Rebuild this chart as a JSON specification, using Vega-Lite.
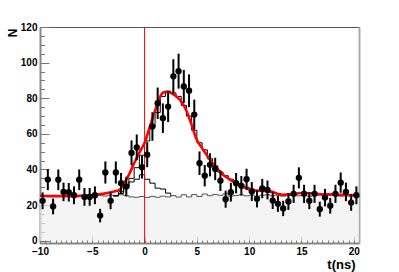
{
  "$schema": "https://vega.github.io/schema/vega-lite/v6.json",
  "width": 319,
  "height": 216,
  "autosize": "none",
  "padding": {"left": 40, "top": 27, "right": 40, "bottom": 29},
  "background": "white",
  "config": {
    "view": {"stroke": "#555", "strokeWidth": 1},
    "font": "Liberation Sans",
    "axis": {"grid": false, "labelFont": "Liberation Sans", "labelFontWeight": "bold", "labelFontSize": 10, "labelColor": "black", "tickColor": "#777", "tickWidth": 1, "domainColor": "#888", "titleFont": "Liberation Sans", "titleColor": "black"}
  },
  "datasets": {
    "fillh": [
      {"x": -10, "n": 25.3}, {"x": -9.5, "n": 25.1}, {"x": -9, "n": 25.4}, {"x": -8.5, "n": 25.2}, {"x": -8, "n": 25.0},
      {"x": -7.5, "n": 25.3}, {"x": -7, "n": 25.1}, {"x": -6.5, "n": 25.4}, {"x": -6, "n": 25.2}, {"x": -5.5, "n": 25.0},
      {"x": -5, "n": 25.3}, {"x": -4.5, "n": 25.5}, {"x": -4, "n": 25.1}, {"x": -3.5, "n": 25.6}, {"x": -3, "n": 25.2},
      {"x": -2.5, "n": 25.8}, {"x": -2, "n": 25.3}, {"x": -1.5, "n": 24.6}, {"x": -1, "n": 24.4}, {"x": -0.5, "n": 24.8},
      {"x": 0, "n": 24.3}, {"x": 0.5, "n": 24.9}, {"x": 1, "n": 24.4}, {"x": 1.5, "n": 25.0}, {"x": 2, "n": 24.6},
      {"x": 2.5, "n": 25.3}, {"x": 3, "n": 24.5}, {"x": 3.5, "n": 25.8}, {"x": 4, "n": 24.6}, {"x": 4.5, "n": 25.9},
      {"x": 5, "n": 24.8}, {"x": 5.5, "n": 26.2}, {"x": 6, "n": 25.3}, {"x": 6.5, "n": 26.0}, {"x": 7, "n": 25.5},
      {"x": 7.5, "n": 26.3}, {"x": 8, "n": 25.0}, {"x": 8.5, "n": 25.4}, {"x": 9, "n": 25.8}, {"x": 9.5, "n": 25.2},
      {"x": 10, "n": 25.6}, {"x": 10.5, "n": 25.0}, {"x": 11, "n": 25.5}, {"x": 11.5, "n": 25.8}, {"x": 12, "n": 25.2},
      {"x": 12.5, "n": 25.5}, {"x": 13, "n": 25.0}, {"x": 13.5, "n": 25.4}, {"x": 14, "n": 25.7}, {"x": 14.5, "n": 25.2},
      {"x": 15, "n": 25.5}, {"x": 15.5, "n": 25.0}, {"x": 16, "n": 25.4}, {"x": 16.5, "n": 25.6}, {"x": 17, "n": 25.1},
      {"x": 17.5, "n": 25.5}, {"x": 18, "n": 25.3}, {"x": 18.5, "n": 25.0}, {"x": 19, "n": 25.4}, {"x": 19.5, "n": 25.2},
      {"x": 20, "n": 25.4}, {"x": 20.5, "n": 25.4}
    ],
    "midh": [
      {"x": -3, "n": 25.2}, {"x": -2.5, "n": 26.5}, {"x": -2, "n": 29.5}, {"x": -1.5, "n": 33}, {"x": -1, "n": 34.5},
      {"x": -0.5, "n": 37}, {"x": 0, "n": 34.5}, {"x": 0.5, "n": 32.3}, {"x": 1, "n": 29.5}, {"x": 1.5, "n": 29},
      {"x": 2, "n": 26.7}, {"x": 2.5, "n": 25.3}
    ],
    "toth": [
      {"x": -3, "n": 25.2}, {"x": -2.5, "n": 27.5}, {"x": -2, "n": 30.5}, {"x": -1.5, "n": 35}, {"x": -1, "n": 41},
      {"x": -0.5, "n": 48}, {"x": 0, "n": 56}, {"x": 0.5, "n": 64}, {"x": 1, "n": 72}, {"x": 1.5, "n": 81},
      {"x": 2, "n": 84}, {"x": 2.5, "n": 83}, {"x": 3, "n": 81}, {"x": 3.5, "n": 76}, {"x": 4, "n": 70},
      {"x": 4.5, "n": 62}, {"x": 5, "n": 55}, {"x": 5.5, "n": 51}, {"x": 6, "n": 46}, {"x": 6.5, "n": 42},
      {"x": 7, "n": 38.5}, {"x": 7.5, "n": 36.5}, {"x": 8, "n": 34.5}, {"x": 8.5, "n": 32.5}, {"x": 9, "n": 31},
      {"x": 9.5, "n": 30}, {"x": 10, "n": 29}, {"x": 10.5, "n": 28.3}, {"x": 11, "n": 28}, {"x": 11.5, "n": 28},
      {"x": 12, "n": 27}, {"x": 12.5, "n": 26.5}, {"x": 13, "n": 25.0}
    ],
    "fit": [
      {"x": -10, "n": 25.2}, {"x": -9, "n": 25.0}, {"x": -8, "n": 25.0}, {"x": -7, "n": 25.0}, {"x": -6, "n": 25.2},
      {"x": -5, "n": 25.5}, {"x": -4, "n": 26.3}, {"x": -3, "n": 27.5}, {"x": -2.4, "n": 28.5}, {"x": -2, "n": 32},
      {"x": -1.5, "n": 37}, {"x": -1, "n": 43.5}, {"x": -0.5, "n": 49.5}, {"x": 0, "n": 55}, {"x": 0.5, "n": 64},
      {"x": 1, "n": 73}, {"x": 1.5, "n": 81}, {"x": 1.8, "n": 83.3}, {"x": 2.2, "n": 83.5}, {"x": 2.8, "n": 82},
      {"x": 3.4, "n": 79}, {"x": 4, "n": 73}, {"x": 4.5, "n": 65}, {"x": 5, "n": 56.5}, {"x": 5.5, "n": 52},
      {"x": 6, "n": 47.5}, {"x": 6.5, "n": 43.5}, {"x": 7, "n": 40}, {"x": 7.5, "n": 37}, {"x": 8, "n": 35},
      {"x": 8.5, "n": 33}, {"x": 9, "n": 31.3}, {"x": 9.5, "n": 30}, {"x": 10, "n": 28.8}, {"x": 10.5, "n": 28.2},
      {"x": 11, "n": 28}, {"x": 12, "n": 27.8}, {"x": 12.5, "n": 26.8}, {"x": 13, "n": 25.8}, {"x": 14, "n": 26},
      {"x": 15, "n": 26.8}, {"x": 16, "n": 26.6}, {"x": 17, "n": 26}, {"x": 18, "n": 26}, {"x": 19, "n": 25.7},
      {"x": 20.5, "n": 25.5}
    ],
    "pts": [
      {"x": -9.75, "n": 22.4, "lo": 17.7, "hi": 27.1},
      {"x": -9.25, "n": 34.3, "lo": 28.4, "hi": 40.2},
      {"x": -8.75, "n": 19.2, "lo": 14.8, "hi": 23.6},
      {"x": -8.25, "n": 34.2, "lo": 28.4, "hi": 40.0},
      {"x": -7.75, "n": 27.4, "lo": 22.2, "hi": 32.6},
      {"x": -7.25, "n": 27.2, "lo": 22.0, "hi": 32.4},
      {"x": -6.75, "n": 25.5, "lo": 20.5, "hi": 30.5},
      {"x": -6.25, "n": 34.2, "lo": 28.4, "hi": 40.0},
      {"x": -5.75, "n": 24.6, "lo": 19.6, "hi": 29.6},
      {"x": -5.25, "n": 24.6, "lo": 19.6, "hi": 29.6},
      {"x": -4.75, "n": 25.5, "lo": 20.5, "hi": 30.5},
      {"x": -4.25, "n": 14.1, "lo": 10.3, "hi": 17.9},
      {"x": -3.75, "n": 38.3, "lo": 32.1, "hi": 44.5},
      {"x": -3.25, "n": 22.4, "lo": 17.7, "hi": 27.1},
      {"x": -2.75, "n": 38.3, "lo": 32.1, "hi": 44.5},
      {"x": -2.25, "n": 32.3, "lo": 26.6, "hi": 38.0},
      {"x": -1.75, "n": 30.4, "lo": 24.9, "hi": 35.9},
      {"x": -1.25, "n": 49.3, "lo": 42.3, "hi": 56.3},
      {"x": -0.75, "n": 52.4, "lo": 45.2, "hi": 59.6},
      {"x": -0.25, "n": 41.3, "lo": 34.9, "hi": 47.7},
      {"x": 0.25, "n": 48.3, "lo": 41.3, "hi": 55.3},
      {"x": 0.75, "n": 64.1, "lo": 56.1, "hi": 72.1},
      {"x": 1.25, "n": 77.2, "lo": 68.4, "hi": 86.0},
      {"x": 1.75, "n": 68.8, "lo": 60.5, "hi": 77.1},
      {"x": 2.25, "n": 75.3, "lo": 66.6, "hi": 84.0},
      {"x": 2.75, "n": 92.3, "lo": 82.7, "hi": 101.9},
      {"x": 3.25, "n": 95.2, "lo": 85.4, "hi": 105.0},
      {"x": 3.75, "n": 86.6, "lo": 77.3, "hi": 95.9},
      {"x": 4.25, "n": 84.2, "lo": 75.0, "hi": 93.4},
      {"x": 4.75, "n": 70.8, "lo": 62.4, "hi": 79.2},
      {"x": 5.25, "n": 43.5, "lo": 36.9, "hi": 50.1},
      {"x": 5.75, "n": 36.5, "lo": 30.5, "hi": 42.5},
      {"x": 6.25, "n": 42.6, "lo": 36.1, "hi": 49.1},
      {"x": 6.75, "n": 40.3, "lo": 34.0, "hi": 46.6},
      {"x": 7.25, "n": 33.7, "lo": 27.9, "hi": 39.5},
      {"x": 7.75, "n": 23.3, "lo": 18.5, "hi": 28.1},
      {"x": 8.25, "n": 27.2, "lo": 22.0, "hi": 32.4},
      {"x": 8.75, "n": 32.3, "lo": 26.6, "hi": 38.0},
      {"x": 9.25, "n": 30.8, "lo": 25.3, "hi": 36.3},
      {"x": 9.75, "n": 34.5, "lo": 28.6, "hi": 40.4},
      {"x": 10.25, "n": 27.6, "lo": 22.3, "hi": 32.9},
      {"x": 10.75, "n": 23.5, "lo": 18.7, "hi": 28.3},
      {"x": 11.25, "n": 29.3, "lo": 23.9, "hi": 34.7},
      {"x": 11.75, "n": 28.5, "lo": 23.2, "hi": 33.8},
      {"x": 12.25, "n": 22.5, "lo": 17.8, "hi": 27.2},
      {"x": 12.75, "n": 20.7, "lo": 16.2, "hi": 25.2},
      {"x": 13.25, "n": 18.1, "lo": 13.8, "hi": 22.4},
      {"x": 13.75, "n": 22.0, "lo": 17.3, "hi": 26.7},
      {"x": 14.25, "n": 26.3, "lo": 21.2, "hi": 31.4},
      {"x": 14.75, "n": 35.3, "lo": 29.4, "hi": 41.2},
      {"x": 15.25, "n": 26.3, "lo": 21.2, "hi": 31.4},
      {"x": 15.75, "n": 22.4, "lo": 17.7, "hi": 27.1},
      {"x": 16.25, "n": 26.3, "lo": 21.2, "hi": 31.4},
      {"x": 16.75, "n": 17.7, "lo": 13.5, "hi": 21.9},
      {"x": 17.25, "n": 24.2, "lo": 19.3, "hi": 29.1},
      {"x": 17.75, "n": 19.6, "lo": 15.2, "hi": 24.0},
      {"x": 18.25, "n": 26.3, "lo": 21.2, "hi": 31.4},
      {"x": 18.75, "n": 32.6, "lo": 26.9, "hi": 38.3},
      {"x": 19.25, "n": 27.4, "lo": 22.2, "hi": 32.6},
      {"x": 19.75, "n": 21.4, "lo": 16.8, "hi": 26.0},
      {"x": 20.25, "n": 25.5, "lo": 20.5, "hi": 30.5}
    ]
  },
  "layer": [
    {
      "data": {"name": "fillh"},
      "mark": {"type": "area", "interpolate": "step-after", "color": "#f0f0f0", "line": {"color": "#555", "strokeWidth": 1}},
      "encoding": {
        "x": {"field": "x", "type": "quantitative", "scale": {"domain": [-10, 20.5], "nice": false, "zero": false},
          "axis": {"orient": "bottom", "values": [-10, -5, 0, 5, 10, 15, 20], "ticks": false, "tickSize": 0, "labelPadding": 3, "labelFlush": false, "labelOverlap": false, "domain": true, "domainColor": "#888", "domainWidth": 2, "title": "t(ns)", "titleFontSize": 13, "titleFontWeight": "bold", "titleX": 315, "titleY": 25, "titleAlign": "right", "titleBaseline": "alphabetic"}},
        "y": {"field": "n", "type": "quantitative", "stack": null, "scale": {"domain": [-1.3, 120], "nice": false, "zero": false},
          "axis": {"orient": "left", "values": [0, 20, 40, 60, 80, 100, 120], "ticks": false, "tickSize": 0, "labelPadding": 3, "labelFlush": false, "labelOverlap": false, "domain": true, "domainColor": "#888", "domainWidth": 2, "title": "N", "titleAngle": -90, "titleFontSize": 12, "titleFontWeight": "bold", "titleX": -24, "titleY": 1, "titleAlign": "right", "titleBaseline": "alphabetic"}},
        "y2": {"datum": 0}
      }
    },
    {
      "data": {"name": "midh"},
      "mark": {"type": "line", "interpolate": "step-after", "color": "black", "strokeWidth": 1},
      "encoding": {
        "x": {"field": "x", "type": "quantitative", "axis": {"orient": "bottom", "values": [-10, -5, 0, 5, 10, 15, 20], "labels": false, "domain": false, "tickSize": -7, "title": null}},
        "y": {"field": "n", "type": "quantitative", "axis": {"orient": "left", "values": [0, 20, 40, 60, 80, 100, 120], "labels": false, "domain": false, "tickSize": -9, "title": null}}
      }
    },
    {
      "data": {"name": "toth"},
      "mark": {"type": "line", "interpolate": "step-after", "color": "black", "strokeWidth": 1},
      "encoding": {
        "x": {"field": "x", "type": "quantitative", "axis": {"orient": "bottom", "values": [-10, -9.5, -9, -8.5, -8, -7.5, -7, -6.5, -6, -5.5, -5, -4.5, -4, -3.5, -3, -2.5, -2, -1.5, -1, -0.5, 0, 0.5, 1, 1.5, 2, 2.5, 3, 3.5, 4, 4.5, 5, 5.5, 6, 6.5, 7, 7.5, 8, 8.5, 9, 9.5, 10, 10.5, 11, 11.5, 12, 12.5, 13, 13.5, 14, 14.5, 15, 15.5, 16, 16.5, 17, 17.5, 18, 18.5, 19, 19.5, 20], "labels": false, "domain": false, "tickSize": -3.5, "title": null}},
        "y": {"field": "n", "type": "quantitative", "axis": {"orient": "left", "values": [0, 5, 10, 15, 20, 25, 30, 35, 40, 45, 50, 55, 60, 65, 70, 75, 80, 85, 90, 95, 100, 105, 110, 115, 120], "labels": false, "domain": false, "tickSize": -4.5, "title": null}}
      }
    },
    {
      "data": {"name": "fit"},
      "mark": {"type": "line", "interpolate": "monotone", "color": "#ff0000", "strokeWidth": 2.6},
      "encoding": {
        "x": {"field": "x", "type": "quantitative", "axis": null},
        "y": {"field": "n", "type": "quantitative", "axis": {"orient": "right", "labels": false, "ticks": false, "domain": true, "domainColor": "#aaa", "domainWidth": 2, "title": null}}
      }
    },
    {
      "data": {"values": [{"t": 0}]},
      "mark": {"type": "rule", "color": "#ff0000", "strokeWidth": 1},
      "encoding": {"x": {"field": "t", "type": "quantitative", "axis": null}}
    },
    {
      "data": {"name": "pts"},
      "mark": {"type": "rule", "color": "black", "strokeWidth": 2},
      "encoding": {
        "x": {"field": "x", "type": "quantitative", "axis": null},
        "y": {"field": "lo", "type": "quantitative", "axis": null},
        "y2": {"field": "hi"}
      }
    },
    {
      "data": {"name": "pts"},
      "mark": {"type": "point", "shape": "circle", "filled": true, "color": "black", "opacity": 1, "size": 40},
      "encoding": {
        "x": {"field": "x", "type": "quantitative", "axis": null},
        "y": {"field": "n", "type": "quantitative", "axis": null}
      }
    }
  ],
  "resolve": {"axis": {"x": "independent", "y": "independent"}}
}
